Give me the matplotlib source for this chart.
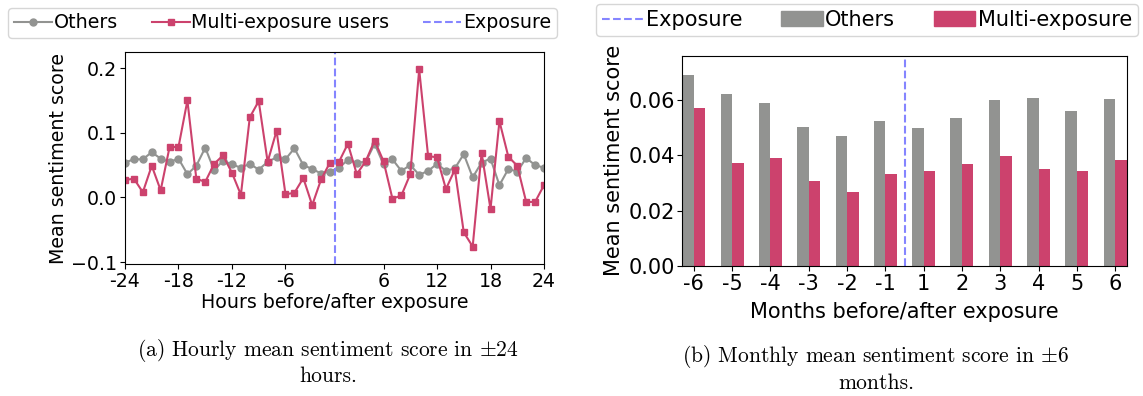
import numpy as np
import matplotlib.pyplot as plt
import matplotlib
from matplotlib.lines import Line2D
from matplotlib.patches import Patch
matplotlib.rcParams.update({'font.size': 13.7, 'mathtext.fontset': 'cm'})

# hourly data: -24..-1 then 1..24 (no hour 0)
hours = list(range(-24, 0)) + list(range(1, 25))
hourly_others = [0.054, 0.059, 0.059, 0.070, 0.060, 0.055, 0.060, 0.036, 0.049, 0.077,
                 0.042, 0.057, 0.051, 0.046, 0.052, 0.043, 0.055, 0.062, 0.059, 0.076,
                 0.050, 0.044, 0.037, 0.040, 0.046, 0.058, 0.054, 0.055, 0.083, 0.051,
                 0.059, 0.041, 0.050, 0.035, 0.041, 0.052, 0.041, 0.045, 0.067, 0.031,
                 0.054, 0.060, 0.019, 0.044, 0.040, 0.061, 0.050, 0.046]
hourly_multi = [0.027, 0.029, 0.008, 0.049, 0.011, 0.078, 0.078, 0.150, 0.029, 0.024,
                0.052, 0.065, 0.038, 0.004, 0.124, 0.149, 0.055, 0.103, 0.005, 0.007,
                0.030, -0.012, 0.028, 0.054, 0.055, 0.083, 0.036, 0.056, 0.088, 0.056,
                -0.002, 0.003, 0.036, 0.198, 0.064, 0.062, 0.013, 0.043, -0.054, -0.076,
                0.069, -0.018, 0.118, 0.063, 0.049, -0.007, -0.007, 0.019]
hour_ticks = [-24, -18, -12, -6, 6, 12, 18, 24]

# monthly data
months = [-6, -5, -4, -3, -2, -1, 1, 2, 3, 4, 5, 6]
monthly_others = [0.0689, 0.0620, 0.0588, 0.0501, 0.0469, 0.0523,
                  0.0498, 0.0534, 0.0599, 0.0606, 0.0559, 0.0602]
monthly_multi = [0.0570, 0.0372, 0.0390, 0.0307, 0.0267, 0.0332,
                 0.0343, 0.0368, 0.0397, 0.0350, 0.0343, 0.0382]

c_gray = '#929391'
c_pink = '#cc426d'
c_exp = '#8585ff'

W, H = 1143, 396
fig = plt.figure(figsize=(W / 100, H / 100), dpi=100)

# ---- (a) hourly ----
fs1 = 13.7
ax1 = fig.add_axes([125 / W, 1 - 264 / H, (544 - 125) / W, (264 - 52) / H])
x = np.arange(len(hours))
ax1.plot(x, hourly_others, color=c_gray, marker='o', markersize=5, linewidth=1.5)
ax1.plot(x, hourly_multi, color=c_pink, marker='s', markersize=5, linewidth=1.5)
ax1.axvline(hours.index(1) - 0.5, color=c_exp, linestyle='--', linewidth=1.5)
ax1.set_xlim(0, len(hours) - 1)
ax1.set_ylim(-0.103, 0.225)
ax1.set_xticks([hours.index(h) for h in hour_ticks])
ax1.set_xticklabels([str(h) for h in hour_ticks])
ax1.set_yticks([-0.1, 0.0, 0.1, 0.2])
ax1.set_xlabel("Hours before/after exposure", labelpad=2, fontsize=fs1)
ax1.set_ylabel("Mean sentiment score", labelpad=2, fontsize=fs1)
ax1.tick_params(axis='both', pad=2, labelsize=fs1)

h1 = [Line2D([], [], color=c_gray, marker='o', markersize=5, linewidth=1.5),
      Line2D([], [], color=c_pink, marker='s', markersize=5, linewidth=1.5),
      Line2D([], [], color=c_exp, linestyle='--', linewidth=1.5)]
fig.legend(h1, ['Others', 'Multi-exposure users', 'Exposure'], ncol=3, mode='expand',
           loc='center', bbox_to_anchor=(8 / W, 1 - 39 / H, 549 / W, 32 / H),
           handlelength=2, handletextpad=0.1, borderaxespad=0, borderpad=0.3,
           fontsize=fs1)

# ---- (b) monthly ----
fs2 = 15
ax2 = fig.add_axes([682.3 / W, 1 - 266 / H, (1126.7 - 682.3) / W, (266 - 55.7) / H])
xm = np.arange(len(months))
bw = 0.3
ax2.bar(xm - bw / 2, monthly_others, width=bw, color=c_gray)
ax2.bar(xm + bw / 2, monthly_multi, width=bw, color=c_pink)
ax2.axvline(months.index(1) - 0.5, color=c_exp, linestyle='--', linewidth=1.5)
ax2.set_xlim(-0.3, len(months) - 1 + 0.3)
ax2.set_ylim(0, 0.0759)
ax2.set_xticks(xm)
ax2.set_xticklabels([str(m) for m in months])
ax2.set_yticks([0.0, 0.02, 0.04, 0.06])
ax2.set_yticklabels(['0.00', '0.02', '0.04', '0.06'])
ax2.set_xlabel("Months before/after exposure", labelpad=6, fontsize=fs2)
ax2.set_ylabel("Mean sentiment score", labelpad=3, fontsize=fs2)
ax2.tick_params(axis='both', pad=2, labelsize=fs2)

h2 = [Line2D([], [], color=c_exp, linestyle='--', linewidth=1.5),
      Patch(color=c_gray), Patch(color=c_pink)]
fig.legend(h2, ['Exposure', 'Others', 'Multi-exposure'], ncol=3, mode='expand',
           loc='center', bbox_to_anchor=(596 / W, 1 - 37 / H, 542 / W, 34 / H),
           handlelength=2, handletextpad=0.1, borderaxespad=0, borderpad=0.3,
           fontsize=fs2)

# captions
cap = dict(family='cmr10', fontsize=15.5, ha='center', va='center')
fig.text(328 / W, 1 - 350 / H, r"(a) Hourly mean sentiment score in $\pm$24", **cap)
fig.text(328 / W, 1 - 376 / H, "hours.", **cap)
fig.text(876 / W, 1 - 357 / H, r"(b) Monthly mean sentiment score in $\pm$6", **cap)
fig.text(876 / W, 1 - 383 / H, "months.", **cap)

fig.savefig('out.png', dpi=100)
